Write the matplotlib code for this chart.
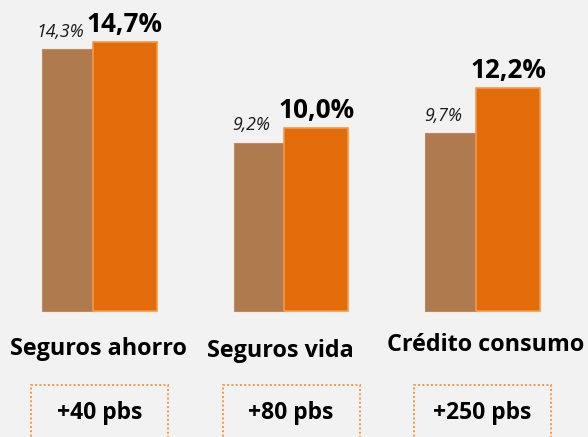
import matplotlib
matplotlib.use("Agg")
import matplotlib.pyplot as plt
from matplotlib.patches import Rectangle

categories = ["Seguros ahorro", "Seguros vida", "Crédito consumo"]
prev_values = [14.3, 9.2, 9.7]
curr_values = [14.7, 10.0, 12.2]
prev_labels = ["14,3%", "9,2%", "9,7%"]
curr_labels = ["14,7%", "10,0%", "12,2%"]
delta_labels = ["+40 pbs", "+80 pbs", "+250 pbs"]

BG = "#F2F2F2"
BROWN = "#B07A4F"
ORANGE = "#E36C0A"
ORANGE_EDGE = "#F79646"

fig = plt.figure(figsize=(5.88, 4.37), dpi=100, facecolor=BG)
ax = fig.add_axes([0, 0, 1, 1])
ax.set_facecolor(BG)

x = list(range(len(categories)))
pb = ax.bar(x, prev_values, width=-0.266, align="edge", color=BROWN,
            edgecolor="#C08A60", linewidth=0.8)
cb = ax.bar(x, curr_values, width=0.334, align="edge", color=ORANGE,
            edgecolor=ORANGE_EDGE, linewidth=1.2)

ax.set_xlim(-0.4856, 2.585)
ax.set_ylim(-6.885, 16.99)
ax.axis("off")

fam = ["Open Sans", "DejaVu Sans"]
for i, (r, lab) in enumerate(zip(pb, prev_labels)):
    ax.annotate(lab, (r.get_x() + r.get_width() / 2, r.get_height()),
                xytext=(-5.5, 6), textcoords="offset points", ha="center",
                va="bottom", fontsize=12.8, style="italic", family=fam, color="#1a1a1a")
for i, (r, lab) in enumerate(zip(cb, curr_labels)):
    ax.annotate(lab, (r.get_x() + r.get_width() / 2, r.get_height()),
                xytext=(0, 3), textcoords="offset points", ha="center",
                va="bottom", fontsize=18.8, weight="bold", family=fam, color="black")

cat_dx = [0.03, -0.02, 0.05]
cat_y = [-2.1, -2.2, -1.87]
for i, cat in enumerate(categories):
    ax.text(i + cat_dx[i], cat_y[i], cat, ha="center", va="center", fontsize=16.8,
            weight="bold", family=fam, color="black")

for i, d in enumerate(delta_labels):
    cx = i + 0.035
    rect = Rectangle((cx - 0.357, -7.5), 0.715, 7.5 - 4.05, fill=False,
                     edgecolor=ORANGE_EDGE, linewidth=1.4, linestyle=(0, (1, 1.2)))
    ax.add_patch(rect)
    ax.text(cx, -5.55, d, ha="center", va="center", fontsize=16.5,
            weight="bold", family=fam, color="black")

fig.savefig("out.png", dpi=100, facecolor=BG)
